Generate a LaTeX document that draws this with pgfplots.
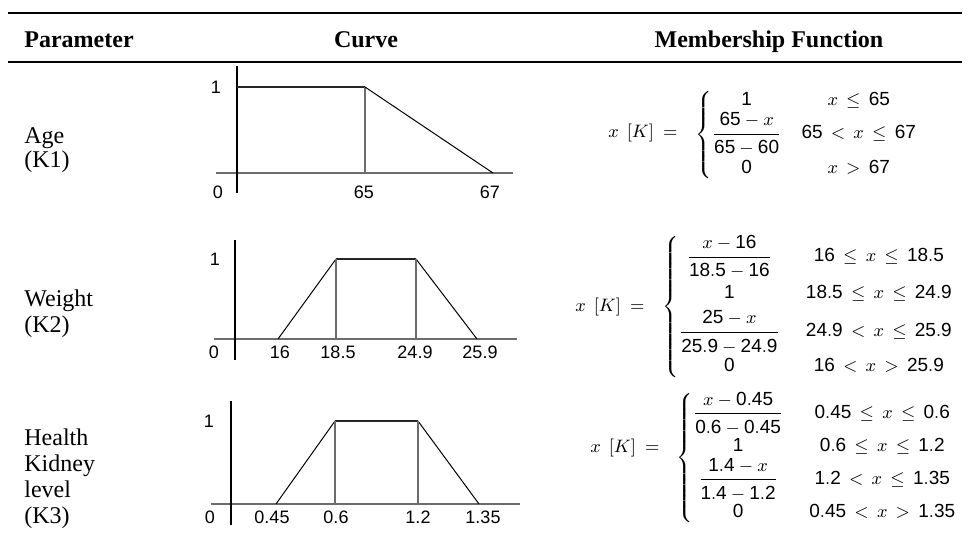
\documentclass[border=0pt]{standalone}
\usepackage{amsmath}
\usepackage{fontspec}
\setmainfont{Liberation Serif}
\setsansfont{Liberation Sans}
\usepackage{pgfplots}
\pgfplotsset{compat=1.18}

% digits of the formulas in the sans font
\newcommand\n[1]{\mathsf{#1}}
% a fraction a little more open than \dfrac
\newcommand\fr[2]{\dfrac{#1\rule[-3pt]{0pt}{3pt}}{\rule{0pt}{8.5pt}#2}}

\pgfplotsset{mf/.style={
    axis lines=middle,
    axis line style={-, line width=0.7pt},
    x axis line style={gray!85!black},
    y axis line style={black},
    x=0.5pt,
    anchor=origin,
    major tick length=0pt,
    tick style={draw=none},
    ytick={1}, yticklabels={1},
    tick label style={font=\sffamily\fontsize{9}{10}\selectfont, text=black},
    clip=false,
  },
  plateau/.style={black!85, line width=0.7pt},
  riser/.style={gray!85!black, line width=0.7pt},
  slope/.style={black, line width=0.5pt},
}

\begin{document}
\begin{tikzpicture}[x=0.5pt, y=-0.5pt]
  \useasboundingbox (0,0) rectangle (970,543);
  \coordinate (o1) at (237,173);
  \coordinate (o2) at (235,339);
  \coordinate (o3) at (231,504);

  % rules and header
  \draw[line width=1pt] (8,12.5) -- (962,12.5);
  \draw[line width=1pt] (8,61.5) -- (962,61.5);
  \begin{scope}[every node/.style={font=\bfseries\fontsize{12}{14}\selectfont, inner sep=0pt}]
    \node[anchor=base west] at (24,47) {Parameter};
    \node[anchor=base] at (366,47) {Curve};
    \node[anchor=base] at (769,47) {Membership Function};
  \end{scope}

  % parameter names
  \begin{scope}[every node/.style={font=\fontsize{12}{13}\selectfont, inner sep=0pt, anchor=base west}]
    \node at (24,143) {Age};
    \node at (24,167) {(K1)};
    \node at (24,306) {Weight};
    \node at (24,332) {(K2)};
    \node at (24,445) {Health};
    \node at (24,471) {Kidney};
    \node at (24,497) {level};
    \node at (24,523) {(K3)};
  \end{scope}

  % membership functions
  \begin{scope}[every node/.style={font=\fontsize{9.5}{11.5}\selectfont, inner sep=0pt},
      lhs/.style={anchor=east}, rhs/.style={anchor=west}]
    \node[lhs] at (678,133) {$x\hspace{4pt}[K]\hspace{2pt}=$};
    \node[rhs] at (695,135) {$\thickmuskip=8mu\left\{\begin{array}{@{}c@{\hspace{10pt}}c@{}}
        \n{1} & x \le \n{65}\\[0pt]
        \fr{\n{65}-x}{\n{65}-\n{60}} & \n{65} < x \le \n{67}\\[6pt]
        \n{0} & x > \n{67}
      \end{array}\right.$};
    \node[lhs] at (645,307) {$x\hspace{4pt}[K]\hspace{2pt}=$};
    \node[rhs] at (662,307) {$\thickmuskip=8mu\left\{\begin{array}{@{}c@{\hspace{13pt}}c@{}}
        \fr{x-\n{16}}{\n{18.5}-\n{16}} & \n{16} \le x \le \n{18.5}\\[7pt]
        \n{1} & \n{18.5} \le x \le \n{24.9}\\[2.5pt]
        \fr{\n{25}-x}{\n{25.9}-\n{24.9}} & \n{24.9} < x \le \n{25.9}\\[6pt]
        \n{0} & \n{16} < x > \n{25.9}
      \end{array}\right.$};
    \node[lhs] at (660,448) {$x\hspace{4pt}[K]\hspace{2pt}=$};
    \node[rhs] at (676,458) {$\thickmuskip=8mu\left\{\begin{array}{@{}c@{\hspace{13pt}}c@{}}
        \fr{x-\n{0.45}}{\n{0.6}-\n{0.45}} & \n{0.45} \le x \le \n{0.6}\\[3.5pt]
        \n{1} & \n{0.6} \le x \le \n{1.2}\\[0pt]
        \fr{\n{1.4}-x}{\n{1.4}-\n{1.2}} & \n{1.2} < x \le \n{1.35}\\[3pt]
        \n{0} & \n{0.45} < x > \n{1.35}
      \end{array}\right.$};
  \end{scope}

  % Age
  \begin{axis}[mf, at={(o1)}, y=43pt,
      xmin=-21, xmax=276, ymin=-0.23, ymax=1.24,
      xtick={-19,127,253}, xticklabels={0,65,67},
      xticklabel style={yshift=-2.9pt},
      yticklabel style={xshift=-4.5pt}]
    \addplot[plateau] coordinates {(0,1) (128,1)};
    \addplot[riser] coordinates {(128,0) (128,1)};
    \addplot[slope] coordinates {(128,1) (256,0)};
  \end{axis}

  % Weight
  \begin{axis}[mf, at={(o2)}, y=40pt,
      xmin=-21, xmax=282, ymin=-0.26, ymax=1.24,
      xtick={-21,45,103,180,245}, xticklabels={0,16,18.5,24.9,25.9},
      yticklabel style={xshift=-4pt}]
    \addplot[slope] coordinates {(43,0) (101,1)};
    \addplot[plateau] coordinates {(101,1) (181,1)};
    \addplot[slope] coordinates {(181,1) (242,0)};
    \addplot[riser] coordinates {(101,0) (101,1)};
    \addplot[riser] coordinates {(181,0) (181,1)};
  \end{axis}

  % Health kidney level
  \begin{axis}[mf, at={(o3)}, y=41.5pt,
      xmin=-20, xmax=289, ymin=-0.25, ymax=1.24,
      xtick={-20,42,106,188,253}, xticklabels={0,0.45,0.6,1.2,1.35},
      xticklabel style={xshift=-0.5pt},
      yticklabel style={xshift=-5pt}]
    \addplot[slope] coordinates {(45,0) (104,1)};
    \addplot[plateau] coordinates {(104,1) (187,1)};
    \addplot[slope] coordinates {(187,1) (248,0)};
    \addplot[riser] coordinates {(104,0) (104,1)};
    \addplot[riser] coordinates {(187,0) (187,1)};
  \end{axis}
\end{tikzpicture}
\end{document}
